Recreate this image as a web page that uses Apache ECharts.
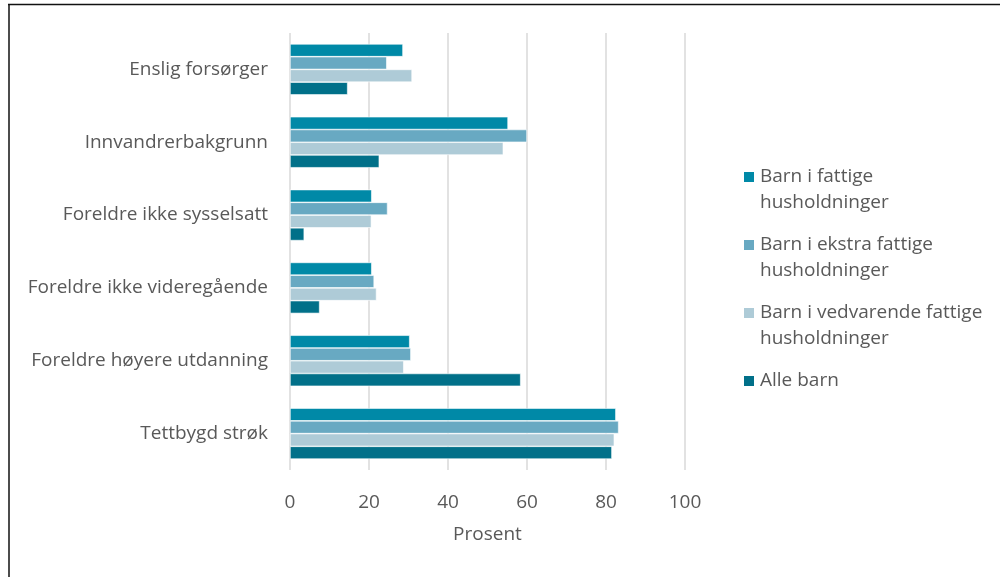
<!DOCTYPE html>
<html>
<head>
<meta charset="utf-8">
<script src="https://cdn.jsdelivr.net/npm/echarts@6/dist/echarts.min.js"></script>
<style>
  html, body { margin: 0; padding: 0; background: #fff; }
  #chart { width: 1000px; height: 577px; }
</style>
</head>
<body>
<div id="chart"></div>
<script>
const categories = [
  'Enslig forsørger',
  'Innvandrerbakgrunn',
  'Foreldre ikke sysselsatt',
  'Foreldre ikke videregående',
  'Foreldre høyere utdanning',
  'Tettbygd strøk'
];

const seriesNames = [
  'Barn i fattige husholdninger',
  'Barn i ekstra fattige husholdninger',
  'Barn i vedvarende fattige husholdninger',
  'Alle barn'
];

const fattige = [28.6, 55.2, 20.7, 20.7, 30.3, 82.5];
const ekstraFattige = [24.5, 60.0, 24.7, 21.3, 30.6, 83.2];
const vedvarendeFattige = [30.9, 54.0, 20.6, 21.9, 28.8, 82.1];
const alleBarn = [14.6, 22.6, 3.6, 7.5, 58.4, 81.5];

const xTicks = [0, 20, 40, 60, 80, 100];

const colors = ['#0089A7', '#68A9C2', '#AECBD7', '#017089'];
const values = [fattige, ekstraFattige, vedvarendeFattige, alleBarn];

// legend text: blank first line so the marker sits next to the first real line
const legendLabels = {
  'Barn i fattige husholdninger': ' \nBarn i fattige\nhusholdninger',
  'Barn i ekstra fattige husholdninger': ' \nBarn i ekstra fattige\nhusholdninger',
  'Barn i vedvarende fattige husholdninger': ' \nBarn i vedvarende fattige\nhusholdninger',
  'Alle barn': ' \nAlle barn\n '
};

const font = '"Open Sans", sans-serif';
const textColor = '#595959';
const fontSize = 19;

const chart = echarts.init(document.getElementById('chart'));

const option = {
  animation: false,
  color: colors,
  textStyle: { fontFamily: font },
  graphic: [
    { type: 'line', shape: { x1: 8, y1: 4.5, x2: 1000, y2: 4.5 }, style: { stroke: '#111', lineWidth: 1.5 } },
    { type: 'line', shape: { x1: 9, y1: 4, x2: 9, y2: 577 }, style: { stroke: '#111', lineWidth: 1.5 } }
  ],
  legend: {
    orient: 'vertical',
    left: 742,
    top: 138,
    padding: 0,
    itemWidth: 12,
    itemHeight: 12,
    itemGap: -10,
    icon: 'rect',
    formatter: name => legendLabels[name],
    textStyle: { fontSize: fontSize, color: textColor, lineHeight: 26 },
    data: seriesNames
  },
  grid: { left: 290, right: 315, top: 33, bottom: 107 },
  xAxis: {
    type: 'value',
    min: 0,
    max: 100,
    interval: 20,
    name: 'Prosent',
    nameLocation: 'middle',
    nameGap: 55,
    nameTextStyle: { fontSize: fontSize, color: textColor },
    axisLine: { show: false },
    axisTick: { show: false },
    axisLabel: {
      fontSize: fontSize,
      color: textColor,
      margin: 23,
      formatter: v => xTicks.includes(v) ? String(v) : ''
    },
    splitLine: { show: true, lineStyle: { color: '#d9d9d9', width: 1.5 } }
  },
  yAxis: {
    type: 'category',
    inverse: true,
    data: categories,
    axisLine: { show: false },
    axisTick: { show: false },
    axisLabel: { fontSize: fontSize, color: textColor, margin: 22 }
  },
  series: seriesNames.map((name, i) => ({
    name: name,
    type: 'bar',
    data: values[i],
    barGap: '0%',
    barCategoryGap: '30%',
    itemStyle: { color: colors[i], borderColor: '#ffffff', borderWidth: 0.6 }
  }))
};

chart.setOption(option);
</script>
</body>
</html>
